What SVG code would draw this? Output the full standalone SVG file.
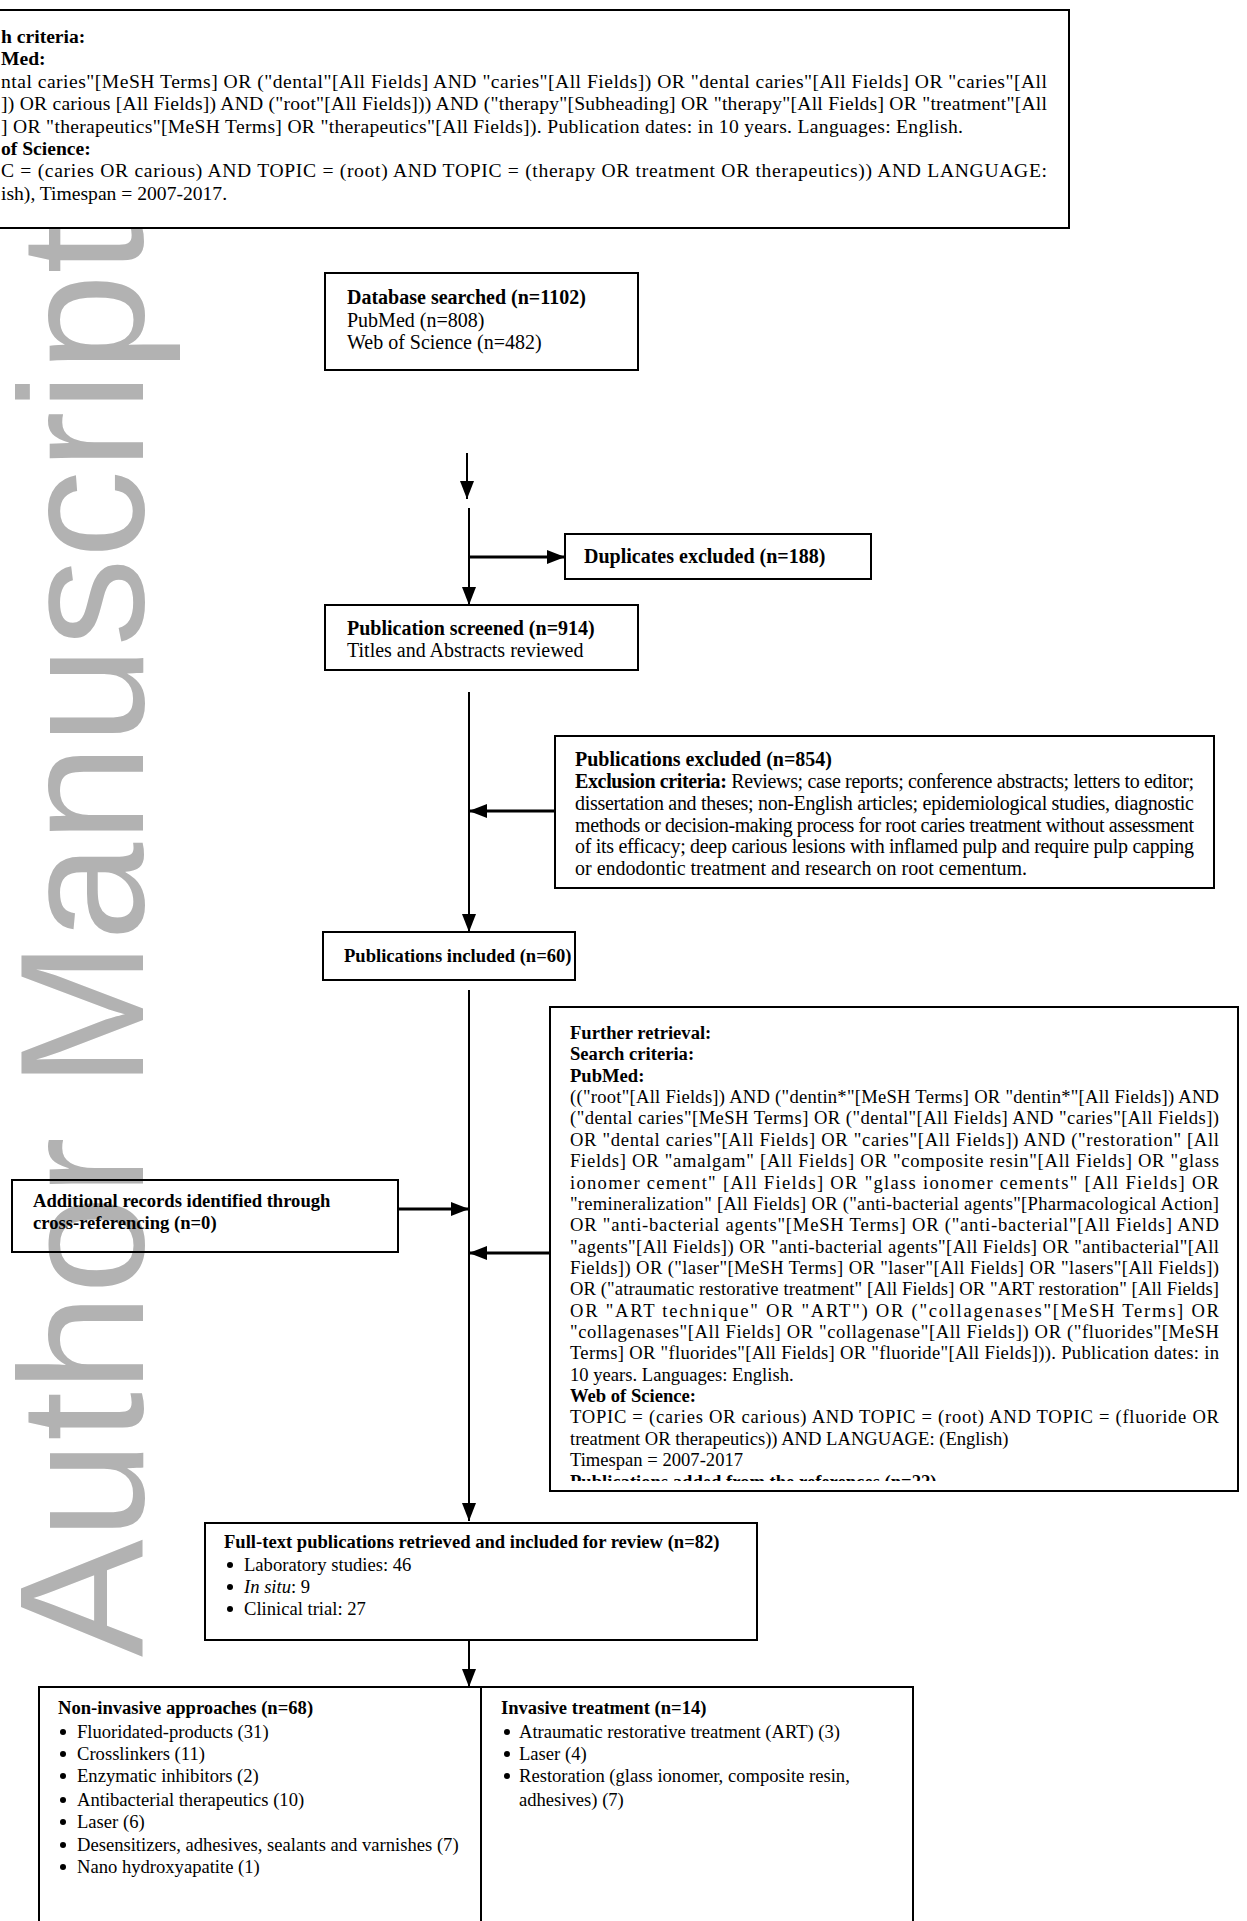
<svg xmlns="http://www.w3.org/2000/svg" width="1247" height="1921" viewBox="0 0 1247 1921">
<style>
.t{font-family:"Liberation Serif","Times New Roman",serif;fill:#000}
.b{font-weight:bold}
.f20{font-size:20px}
.f19{font-size:19.6px}
.f18{font-size:18.6px}
.box{fill:none;stroke:#000;stroke-width:2}
.ln{fill:none;stroke:#000;stroke-width:2}
.lh{fill:none;stroke:#000;stroke-width:3}
.wm{font-family:"Liberation Sans",Arial,sans-serif;font-size:176.5px;fill:#b2b2b2}
</style>
<defs>
<marker id="ah" viewBox="0 0 18 14" refX="18" refY="7" markerWidth="18" markerHeight="14" markerUnits="userSpaceOnUse" orient="auto"><path d="M0,0 L18,7 L0,14 z" fill="#000"/></marker>
<clipPath id="clipFR"><rect x="550" y="1007" width="688" height="474"/></clipPath>
</defs>

<g id="watermark">
<text class="wm" transform="translate(143,1657) rotate(-90)" x="0" y="0">Author Manuscript</text>
</g>

<g id="search-criteria">
<rect x="-10" y="10" width="1079" height="218" fill="#fff" stroke="#000" stroke-width="2"/>
<text class="t f19 b" x="1" y="43">h criteria:</text>
<text class="t f19 b" x="1" y="65.4">Med:</text>
<text class="t f19" x="1" y="87.8" textLength="1046" lengthAdjust="spacing">ntal caries"[MeSH Terms] OR ("dental"[All Fields] AND "caries"[All Fields]) OR "dental caries"[All Fields] OR "caries"[All</text>
<text class="t f19" x="1" y="110.2" textLength="1046" lengthAdjust="spacing">]) OR carious [All Fields]) AND ("root"[All Fields])) AND ("therapy"[Subheading] OR "therapy"[All Fields] OR "treatment"[All</text>
<text class="t f19" x="1" y="132.6" textLength="962" lengthAdjust="spacing">] OR "therapeutics"[MeSH Terms] OR "therapeutics"[All Fields]). Publication dates: in 10 years. Languages: English.</text>
<text class="t f19 b" x="1" y="155">of Science:</text>
<text class="t f19" x="1" y="177.4" textLength="1046" lengthAdjust="spacing">C = (caries OR carious) AND TOPIC = (root) AND TOPIC = (therapy OR treatment OR therapeutics)) AND LANGUAGE:</text>
<text class="t f19" x="1" y="199.8">ish), Timespan = 2007-2017.</text>
</g>

<g id="database-searched">
<rect class="box" x="325" y="273" width="313" height="97"/>
<text class="t f20 b" x="347" y="304">Database searched (n=1102)</text>
<text class="t f20" x="347" y="327">PubMed (n=808)</text>
<text class="t f20" x="347" y="349">Web of Science (n=482)</text>
</g>

<g id="duplicates-excluded">
<rect class="box" x="565" y="534" width="306" height="45"/>
<text class="t f20 b" x="584" y="563">Duplicates excluded (n=188)</text>
</g>

<g id="publication-screened">
<rect class="box" x="325" y="605" width="313" height="65"/>
<text class="t f20 b" x="347" y="635">Publication screened (n=914)</text>
<text class="t f20" x="347" y="657">Titles and Abstracts reviewed</text>
</g>

<g id="publications-excluded">
<rect class="box" x="555" y="736" width="659" height="152"/>
<text class="t f20 b" x="575" y="766">Publications excluded (n=854)</text>
<text class="t f20" x="575" y="788" textLength="619" lengthAdjust="spacing"><tspan class="b">Exclusion criteria:</tspan> Reviews; case reports; conference abstracts; letters to editor;</text>
<text class="t f20" x="575" y="810" textLength="619" lengthAdjust="spacing">dissertation and theses; non-English articles; epidemiological studies, diagnostic</text>
<text class="t f20" x="575" y="832" textLength="619" lengthAdjust="spacing">methods or decision-making process for root caries treatment without assessment</text>
<text class="t f20" x="575" y="853" textLength="619" lengthAdjust="spacing">of its efficacy; deep carious lesions with inflamed pulp and require pulp capping</text>
<text class="t f20" x="575" y="875">or endodontic treatment and research on root cementum.</text>
</g>

<g id="publications-included">
<rect class="box" x="323" y="932" width="252" height="48"/>
<text class="t f18 b" x="344" y="962">Publications included (n=60)</text>
</g>

<g id="further-retrieval">
<rect class="box" x="550" y="1007" width="688" height="484"/>
<g clip-path="url(#clipFR)">
<text class="t f18 b" x="570" y="1039">Further retrieval:</text>
<text class="t f18 b" x="570" y="1060.4">Search criteria:</text>
<text class="t f18 b" x="570" y="1081.7">PubMed:</text>
<text class="t f18" x="570" y="1103.1" textLength="649" lengthAdjust="spacing">(("root"[All Fields]) AND ("dentin*"[MeSH Terms] OR "dentin*"[All Fields]) AND</text>
<text class="t f18" x="570" y="1124.4" textLength="649" lengthAdjust="spacing">("dental caries"[MeSH Terms] OR ("dental"[All Fields] AND "caries"[All Fields])</text>
<text class="t f18" x="570" y="1145.8" textLength="649" lengthAdjust="spacing">OR "dental caries"[All Fields] OR "caries"[All Fields]) AND ("restoration" [All</text>
<text class="t f18" x="570" y="1167.1" textLength="649" lengthAdjust="spacing">Fields] OR "amalgam" [All Fields] OR "composite resin"[All Fields]  OR "glass</text>
<text class="t f18" x="570" y="1188.5" textLength="649" lengthAdjust="spacing">ionomer cement" [All Fields] OR "glass ionomer cements" [All Fields] OR</text>
<text class="t f18" x="570" y="1209.8" textLength="649" lengthAdjust="spacing">"remineralization" [All Fields] OR ("anti-bacterial agents"[Pharmacological Action]</text>
<text class="t f18" x="570" y="1231.2" textLength="649" lengthAdjust="spacing">OR "anti-bacterial agents"[MeSH Terms] OR ("anti-bacterial"[All Fields] AND</text>
<text class="t f18" x="570" y="1252.5" textLength="649" lengthAdjust="spacing">"agents"[All Fields]) OR "anti-bacterial agents"[All Fields] OR "antibacterial"[All</text>
<text class="t f18" x="570" y="1273.9" textLength="649" lengthAdjust="spacing">Fields]) OR ("laser"[MeSH Terms] OR "laser"[All Fields] OR "lasers"[All Fields])</text>
<text class="t f18" x="570" y="1295.2" textLength="649" lengthAdjust="spacing">OR ("atraumatic restorative treatment" [All Fields] OR "ART restoration" [All Fields]</text>
<text class="t f18" x="570" y="1316.6" textLength="649" lengthAdjust="spacing">OR "ART technique" OR "ART") OR ("collagenases"[MeSH Terms] OR</text>
<text class="t f18" x="570" y="1337.9" textLength="649" lengthAdjust="spacing">"collagenases"[All Fields] OR "collagenase"[All Fields]) OR ("fluorides"[MeSH</text>
<text class="t f18" x="570" y="1359.3" textLength="649" lengthAdjust="spacing">Terms] OR "fluorides"[All Fields] OR "fluoride"[All Fields])). Publication dates: in</text>
<text class="t f18" x="570" y="1380.6">10 years. Languages: English.</text>
<text class="t f18 b" x="570" y="1402">Web of Science:</text>
<text class="t f18" x="570" y="1423.3" textLength="649" lengthAdjust="spacing">TOPIC = (caries OR carious) AND TOPIC = (root) AND TOPIC = (fluoride OR</text>
<text class="t f18" x="570" y="1444.7">treatment OR therapeutics)) AND LANGUAGE: (English)</text>
<text class="t f18" x="570" y="1466">Timespan = 2007-2017</text>
<text class="t f18 b" x="570" y="1488">Publications added from the references (n=22)</text>
</g>
</g>

<g id="additional-records">
<rect class="box" x="12" y="1180" width="386" height="72"/>
<text class="t f18 b" x="33" y="1207">Additional records identified through</text>
<text class="t f18 b" x="33" y="1229">cross-referencing (n=0)</text>
</g>

<g id="full-text">
<rect class="box" x="205" y="1523" width="552" height="117"/>
<text class="t f18 b" x="224" y="1548">Full-text publications retrieved and included for review (n=82)</text>
<circle cx="230" cy="1565" r="3"/>
<text class="t f18" x="244" y="1571">Laboratory studies: 46</text>
<circle cx="230" cy="1587" r="3"/>
<text class="t f18" x="244" y="1593"><tspan font-style="italic">In situ</tspan>: 9</text>
<circle cx="230" cy="1609" r="3"/>
<text class="t f18" x="244" y="1615">Clinical trial: 27</text>
</g>

<g id="non-invasive">
<rect class="box" x="39" y="1687" width="442" height="260"/>
<text class="t f18 b" x="58" y="1714">Non-invasive approaches (n=68)</text>
<circle cx="63" cy="1732" r="3"/><text class="t f18" x="77" y="1738">Fluoridated-products (31)</text>
<circle cx="63" cy="1754" r="3"/><text class="t f18" x="77" y="1760">Crosslinkers (11)</text>
<circle cx="63" cy="1776" r="3"/><text class="t f18" x="77" y="1782">Enzymatic inhibitors (2)</text>
<circle cx="63" cy="1800" r="3"/><text class="t f18" x="77" y="1806">Antibacterial therapeutics (10)</text>
<circle cx="63" cy="1822" r="3"/><text class="t f18" x="77" y="1828">Laser (6)</text>
<circle cx="63" cy="1845" r="3"/><text class="t f18" x="77" y="1851">Desensitizers, adhesives, sealants and varnishes (7)</text>
<circle cx="63" cy="1867" r="3"/><text class="t f18" x="77" y="1873">Nano hydroxyapatite (1)</text>
</g>

<g id="invasive">
<rect class="box" x="481" y="1687" width="432" height="260"/>
<text class="t f18 b" x="501" y="1714">Invasive treatment (n=14)</text>
<circle cx="507" cy="1732" r="3"/><text class="t f18" x="519" y="1738">Atraumatic restorative treatment (ART) (3)</text>
<circle cx="507" cy="1754" r="3"/><text class="t f18" x="519" y="1760">Laser (4)</text>
<circle cx="507" cy="1776" r="3"/><text class="t f18" x="519" y="1782">Restoration (glass ionomer, composite resin,</text>
<text class="t f18" x="519" y="1806">adhesives) (7)</text>
</g>

<g id="connectors">
<line class="ln" x1="467" y1="453" x2="467" y2="499" marker-end="url(#ah)"/>
<line class="ln" x1="469" y1="508" x2="469" y2="605" marker-end="url(#ah)"/>
<line class="lh" x1="469" y1="557" x2="565" y2="557" marker-end="url(#ah)"/>
<line class="ln" x1="469" y1="692" x2="469" y2="932" marker-end="url(#ah)"/>
<line class="lh" x1="555" y1="811" x2="469" y2="811" marker-end="url(#ah)"/>
<line class="ln" x1="469" y1="990" x2="469" y2="1521" marker-end="url(#ah)"/>
<line class="lh" x1="398" y1="1209" x2="469" y2="1209" marker-end="url(#ah)"/>
<line class="lh" x1="550" y1="1253" x2="469" y2="1253" marker-end="url(#ah)"/>
<line class="ln" x1="469" y1="1641" x2="469" y2="1687" marker-end="url(#ah)"/>
</g>
</svg>
